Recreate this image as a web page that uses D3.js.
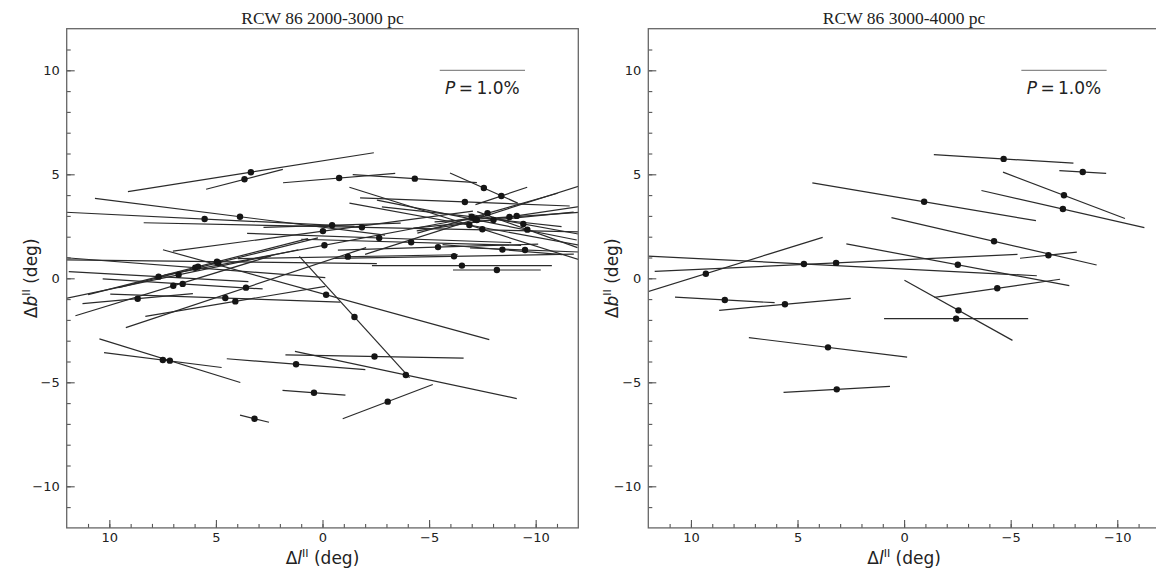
<!DOCTYPE html>
<html>
<head>
<meta charset="utf-8">
<script src="https://cdn.jsdelivr.net/npm/d3@7"></script>
<style>
  body { margin: 0; background: #fff; }
  svg { display: block; }
</style>
</head>
<body>
<div id="chart"></div>
<script>
// polarization vectors, RCW 86
// each star: offset in l, b (deg), P (%), angle of the bar on the page (deg, ccw)
var leftL = [3.36, 3.66, -0.78, -4.33, -7.57, -8.39, -6.68, 5.53, 3.87, -7.74,
  -7.00, -7.16, -7.24, -6.89, -8.02, -8.77, -9.11, -9.42, -9.61, -7.50,
  -1.85, -0.45, -0.02, -2.66, -0.09, -4.16, -5.42, -8.44, -9.50, -1.19,
  -6.17, -6.54, -8.18, -0.17, -1.50, 4.95, 4.89, 5.97, 5.84, 7.69,
  6.75, 7.00, 6.56, 3.59, 8.67, 4.56, 4.09, 7.49, 7.16, 1.24,
  -2.44, -3.91, 0.40, -3.06, 3.19];
var leftB = [5.10, 4.76, 4.82, 4.79, 4.34, 3.96, 3.67, 2.85, 2.96, 3.13,
  2.96, 2.84, 2.80, 2.56, 2.80, 2.95, 3.00, 2.61, 2.34, 2.36,
  2.45, 2.55, 2.27, 1.94, 1.59, 1.73, 1.50, 1.38, 1.36, 1.04,
  1.06, 0.61, 0.40, -0.79, -1.86, 0.80, 0.75, 0.51, 0.56, 0.08,
  0.17, -0.36, -0.27, -0.45, -0.98, -0.95, -1.11, -3.93, -3.96, -4.13,
  -3.76, -4.65, -5.50, -5.93, -6.75];
var leftP = [2.92, 0.93, 1.32, 1.46, 0.87, 0.64, 2.46, 3.52, 3.43, 1.71,
  2.12, 2.71, 2.39, 2.86, 1.89, 1.76, 2.37, 1.31, 1.25, 3.27,
  5.12, 1.61, 3.55, 3.10, 3.82, 2.58, 2.35, 1.41, 1.29, 2.58,
  2.81, 2.11, 1.03, 3.97, 1.92, 3.75, 2.41, 3.06, 2.66, 2.11,
  2.87, 2.40, 1.88, 2.97, 1.30, 2.70, 2.14, 1.39, 1.73, 1.63,
  2.09, 2.66, 0.74, 1.13, 0.35];
var leftA = [9.0, 14.6, 4.8, -3.7, -24.0, 18.6, -2.2, -2.8, -7.2, 15.9,
  -6.3, 17.7, -11.3, -10.4, 5.7, 3.8, 8.5, -10.3, -19.8, -17.5,
  -1.2, 1.7, 7.6, -2.0, 10.6, -1.6, 1.7, -4.8, -2.1, 1.0,
  1.0, 0.0, 0.0, -15.4, -47.7, -0.7, 14.0, -4.4, 14.3, -3.2,
  11.8, 17.0, -3.6, 18.4, 5.2, -2.0, 9.5, -7.2, -17.2, -4.5,
  -1.1, -12.0, -4.4, 20.8, -13.9];

var rightL = [-4.67, -8.38, -7.50, -7.45, -0.94, -4.22, -6.77, -2.52, 4.70, 3.19,
  9.30, 8.41, 5.59, -4.37, -2.55, -2.44, 3.57, 3.16];
var rightB = [5.74, 5.11, 3.99, 3.33, 3.68, 1.78, 1.11, 0.65, 0.69, 0.74,
  0.22, -1.04, -1.25, -0.48, -1.54, -1.94, -3.32, -5.34];
var rightP = [1.64, 0.55, 1.53, 1.96, 2.66, 2.47, 0.67, 2.66, 5.47, 4.26,
  2.87, 1.17, 1.55, 1.49, 1.45, 1.69, 1.87, 1.25];
var rightA = [-3.5, -3.2, -20.8, -12.8, -9.6, -13.0, 6.1, -10.6, -2.9, 2.7,
  17.3, -3.2, 5.2, 8.2, -29.1, 0.0, -7.0, 3.2];

var titles = ["RCW 86 2000-3000 pc", "RCW 86 3000-4000 pc"];
var majorTicks = [-10, -5, 0, 5, 10];
var minorTicks = d3.range(-11, 12);
var refP = 1.0;        // legend bar
var degPerPct = 4.0;   // bar length scale

var svgWidth = 1156;
var svgHeight = 571;
var panelW = 511.6;
var panelH = 499.2;
var top0 = 28.7;
var lefts = [66.7, 648.3];

var svg = d3.select("#chart")
  .append("svg")
  .attr("width", svgWidth)
  .attr("height", svgHeight)
  .style("font-family", "'DejaVu Sans', sans-serif");

var x = d3.scaleLinear().domain([12, -12]).range([0, panelW]);
var y = d3.scaleLinear().domain([-12, 12]).range([panelH, 0]);
var pxPerPct = x(-degPerPct) - x(0);

function drawPanel(i, L, B, P, A) {
  var g = svg.append("g")
    .attr("transform", `translate(${lefts[i]}, ${top0})`);

  svg.append("clipPath")
    .attr("id", "clip" + i)
    .append("rect")
    .attr("x", 0).attr("y", 0)
    .attr("width", panelW).attr("height", panelH);

  // minor + major ticks, pointing inwards
  var xMinor = g.append("g")
    .attr("transform", `translate(0, ${panelH})`)
    .call(d3.axisBottom(x).tickValues(minorTicks).tickSizeInner(-4).tickSizeOuter(0).tickFormat(""));
  var xMajor = g.append("g")
    .attr("transform", `translate(0, ${panelH})`)
    .call(d3.axisBottom(x).tickValues(majorTicks).tickSizeInner(-8).tickSizeOuter(0).tickPadding(5));
  var yMinor = g.append("g")
    .call(d3.axisLeft(y).tickValues(minorTicks).tickSizeInner(-4).tickSizeOuter(0).tickFormat(""));
  var yMajor = g.append("g")
    .call(d3.axisLeft(y).tickValues(majorTicks).tickSizeInner(-8).tickSizeOuter(0).tickPadding(7));

  [xMinor, xMajor, yMinor, yMajor].forEach(function(ax) {
    ax.select(".domain").remove();
    ax.selectAll("line").attr("stroke", "#555").attr("stroke-width", 1.1);
    ax.selectAll("text")
      .attr("fill", "#222")
      .style("font-size", "13px")
      .style("font-family", "'DejaVu Sans', sans-serif");
  });

  // vectors
  var data = L.map(function(l, k) {
    return { l: l, b: B[k], p: P[k], a: A[k] };
  });

  var vg = g.append("g").attr("clip-path", `url(#clip${i})`);

  vg.selectAll("line.vec")
    .data(data)
    .enter()
    .append("line")
    .attr("class", "vec")
    .attr("x1", d => x(d.l) - d.p * pxPerPct / 2 * Math.cos(d.a * Math.PI / 180))
    .attr("x2", d => x(d.l) + d.p * pxPerPct / 2 * Math.cos(d.a * Math.PI / 180))
    .attr("y1", d => y(d.b) + d.p * pxPerPct / 2 * Math.sin(d.a * Math.PI / 180))
    .attr("y2", d => y(d.b) - d.p * pxPerPct / 2 * Math.sin(d.a * Math.PI / 180))
    .attr("stroke", "#2b2b2b")
    .attr("stroke-width", 1.2);

  vg.selectAll("circle")
    .data(data)
    .enter()
    .append("circle")
    .attr("cx", d => x(d.l))
    .attr("cy", d => y(d.b))
    .attr("r", 3.2)
    .attr("fill", "#151515");

  // frame
  g.append("rect")
    .attr("width", panelW)
    .attr("height", panelH)
    .attr("fill", "none")
    .attr("stroke", "#666")
    .attr("stroke-width", 1.3);

  // legend bar
  g.append("line")
    .attr("x1", x(-7.5 + refP * degPerPct / 2))
    .attr("x2", x(-7.5 - refP * degPerPct / 2))
    .attr("y1", y(10))
    .attr("y2", y(10))
    .attr("stroke", "#8a8a8a")
    .attr("stroke-width", 1.3);

  var leg = g.append("text")
    .attr("x", x(-7.5))
    .attr("y", y(8.86))
    .attr("text-anchor", "middle")
    .attr("fill", "#222")
    .style("font-size", "17px");
  leg.append("tspan").style("font-style", "italic").text("P");
  leg.append("tspan").text("\u2009=\u20091.0%");

  // title
  g.append("text")
    .attr("x", panelW / 2)
    .attr("y", -5)
    .attr("text-anchor", "middle")
    .attr("fill", "#222")
    .style("font-family", "'Liberation Serif', 'Times New Roman', serif")
    .style("font-size", "17.5px")
    .text(titles[i]);

  // axis labels
  var xl = g.append("text")
    .attr("x", x(0))
    .attr("y", panelH + 36)
    .attr("text-anchor", "middle")
    .attr("fill", "#222")
    .style("font-size", "17px");
  xl.append("tspan").text("\u0394");
  xl.append("tspan").style("font-style", "italic").text("l");
  xl.append("tspan").attr("dy", -7).style("font-size", "11px").text("II");
  xl.append("tspan").attr("dy", 7).text(" (deg)");

  var yl = g.append("text")
    .attr("transform", `translate(-30, ${y(0)}) rotate(-90)`)
    .attr("text-anchor", "middle")
    .attr("fill", "#222")
    .style("font-size", "17px");
  yl.append("tspan").text("\u0394");
  yl.append("tspan").style("font-style", "italic").text("b");
  yl.append("tspan").attr("dy", -7).style("font-size", "11px").text("II");
  yl.append("tspan").attr("dy", 7).text(" (deg)");
}

drawPanel(0, leftL, leftB, leftP, leftA);
drawPanel(1, rightL, rightB, rightP, rightA);
</script>
</body>
</html>
